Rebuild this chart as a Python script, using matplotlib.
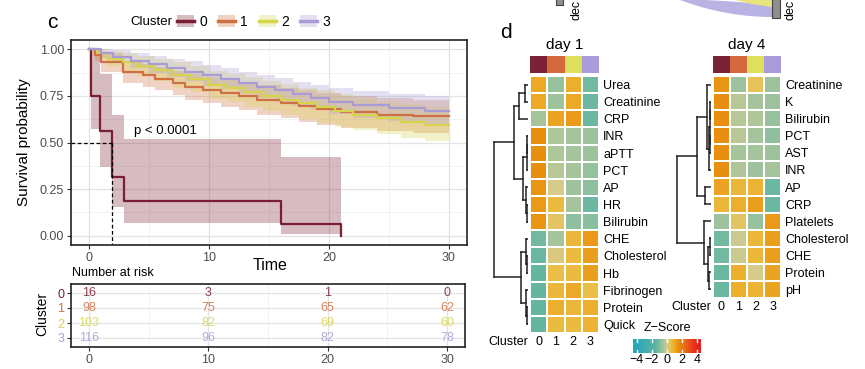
import matplotlib
matplotlib.use("Agg")
import matplotlib.pyplot as plt
import numpy as np
from matplotlib.colors import LinearSegmentedColormap
from matplotlib.lines import Line2D
from matplotlib.patches import Patch, Rectangle, Polygon

plt.rcParams['font.family'] = ['Liberation Sans', 'DejaVu Sans']

# ---------------- survival data ----------------
km_colors = ['#7A1E33', '#CF7042', '#D6D44A', '#A89BD6']
cluster_names = ['0', '1', '2', '3']

t0 = [0, 0.2, 0.9, 1.9, 2.9, 16, 21]
s0 = [1.0, 0.75, 0.5625, 0.3125, 0.1875, 0.0625, 0.0]
lo0 = [1.0, 0.57, 0.37, 0.155, 0.07, 0.01, 0.0]
hi0 = [1.0, 1.0, 0.866, 0.645, 0.52, 0.42, 0.0]

t1 = [0, 0.5, 1, 2.8, 4.5, 5.5, 7, 8, 9.5, 11, 12.5, 14, 16, 17.5, 19, 21, 24, 27, 30]
s1 = [1, .97, .93, .88, .86, .84, .82, .80, .78, .765, .75, .73, .71, .695, .68, .665, .65, .64, .64]
lo1 = [1, .94, .88, .82, .80, .78, .755, .73, .71, .69, .675, .65, .63, .61, .595, .58, .56, .55, .55]
hi1 = [1, 1, .98, .94, .92, .905, .885, .87, .85, .84, .825, .81, .79, .78, .765, .75, .74, .73, .73]

t2 = [0, 0.7, 1.5, 2.8, 4, 5.5, 7, 8.5, 10, 11.5, 13, 14.5, 16, 17.5, 19, 20.5, 22, 24, 26, 28, 30]
s2 = [1, .98, .95, .93, .91, .89, .86, .84, .81, .79, .77, .75, .73, .71, .69, .67, .65, .63, .61, .595, .595]
lo2 = [1, .95, .91, .88, .855, .83, .795, .77, .735, .715, .69, .67, .65, .625, .605, .585, .565, .545, .525, .51, .51]
hi2 = [1, 1, .99, .98, .965, .95, .93, .91, .885, .87, .85, .83, .815, .795, .78, .76, .74, .72, .705, .69, .69]

t3 = [0, 1, 2, 3.5, 5, 6.5, 8, 9.5, 11, 12.5, 14, 15.5, 17, 18.5, 20, 22, 25, 28, 30]
s3 = [1, .98, .96, .94, .92, .90, .88, .86, .84, .82, .80, .78, .76, .74, .72, .70, .685, .67, .67]
lo3 = [1, .955, .925, .90, .875, .85, .83, .805, .785, .76, .74, .715, .695, .675, .655, .63, .615, .60, .60]
hi3 = [1, 1, .995, .98, .965, .95, .935, .915, .90, .88, .86, .845, .825, .81, .79, .775, .76, .75, .75]

risk_times = [0, 10, 20, 30]
risk_counts = [[16, 3, 1, 0], [98, 75, 65, 62], [103, 82, 69, 60], [116, 96, 82, 78]]

# ---------------- heatmap data ----------------
annot_colors = ['#7B2236', '#D4693D', '#DCE05B', '#AA9BDA']

day1_rows = ['Urea', 'Creatinine', 'CRP', 'INR', 'aPTT', 'PCT', 'AP', 'HR', 'Bilirubin',
             'CHE', 'Cholesterol', 'Hb', 'Fibrinogen', 'Protein', 'Quick']
day1_z = [[1.0, -0.7, 0.9, -1.2],
          [1.0, -0.6, 1.0, -1.3],
          [-0.5, 1.1, 1.3, -1.3],
          [1.5, -0.4, -0.5, -0.6],
          [1.5, -0.4, -0.5, -0.6],
          [1.5, -0.3, -0.5, -0.7],
          [1.4, 0.0, -0.6, -0.8],
          [1.3, 0.6, -0.5, -1.3],
          [1.4, 0.3, -0.8, -0.9],
          [-1.2, -0.5, 0.7, 1.3],
          [-1.3, 0.1, 0.6, 1.2],
          [-1.4, 0.5, 0.6, 1.2],
          [-1.4, 0.7, 1.0, 0.5],
          [-1.4, 0.9, 0.7, 0.9],
          [-1.4, 0.6, 0.6, 0.8]]
# merges: (child a, child b, height) ; leaves are 0..n-1
day1_merges = [(0, 1, 2.5), (15, 2, 8.5), (3, 4, 0.8), (17, 5, 1.2), (7, 8, 1.0),
               (6, 19, 1.5), (18, 20, 5.2), (16, 21, 13.5), (10, 11, 1.0), (9, 23, 2.0),
               (13, 14, 0.8), (12, 25, 1.5), (24, 26, 6.5), (22, 27, 33)]

day4_rows = ['Creatinine', 'K', 'Bilirubin', 'PCT', 'AST', 'INR', 'AP', 'CRP',
             'Platelets', 'Cholesterol', 'CHE', 'Protein', 'pH']
day4_z = [[1.4, -0.6, 0.4, -0.6],
          [1.5, -0.3, -0.5, -0.6],
          [1.5, -0.3, -0.4, -0.7],
          [1.5, -0.3, -0.5, -0.8],
          [1.5, -0.5, -0.5, -0.6],
          [1.5, -0.4, -0.6, -0.5],
          [1.1, 0.7, 0.8, -1.3],
          [0.7, 0.9, 1.2, -1.3],
          [-0.6, 0.3, -0.7, 1.3],
          [-1.2, -0.1, 0.7, 1.2],
          [-1.2, -0.1, 0.7, 1.2],
          [-1.3, 0.9, 0.0, 1.1],
          [-1.3, 0.9, 0.8, 1.1]]
day4_merges = [(1, 2, 1.0), (3, 4, 1.0), (13, 14, 1.5), (15, 5, 2.0), (0, 16, 4.5),
               (6, 7, 6.0), (17, 18, 14), (9, 10, 0.8), (11, 12, 2.0), (20, 21, 3.0),
               (8, 22, 6.7), (19, 23, 35)]

zscore_ticks = [-4, -2, 0, 2, 4]

# ---------------- layout helpers ----------------
W, H = 865, 369
fig = plt.figure(figsize=(W / 100, H / 100), dpi=100)


def box(l, t, r, b):
    return [l / W, 1 - b / H, (r - l) / W, (b - t) / H]


def ftext(x, y, s, **kw):
    fig.text(x / W, 1 - y / H, s, **kw)


zcmap = LinearSegmentedColormap.from_list('zs', [
    (0.0, '#2AA6BA'), (2.5 / 8, '#5DB4A2'), (3.5 / 8, '#A5C49C'), (4 / 8, '#D5CB8C'),
    (4.5 / 8, '#EBC048'), (5 / 8, '#ECAA26'), (5.5 / 8, '#E8900F'), (6.5 / 8, '#EA6418'),
    (1.0, '#E8201E')])

# ---------------- bits of the neighbouring panel ----------------
bg = fig.add_axes([0, 0, 1, 1], zorder=-5)
bg.set_xlim(0, W)
bg.set_ylim(H, 0)
bg.axis('off')
s = np.linspace(0, 1, 40)
lower = np.column_stack([680 + 92 * s, 17 - 17 * (1 - s) ** 2])
upper = np.column_stack([772 - 67 * s, 7 - 7 * s ** 0.5])
bg.add_patch(Polygon(np.vstack([lower, upper]), closed=True, facecolor='#B8B3E3', edgecolor='none'))
bg.add_patch(Polygon([[735, 0], [772, 0], [772, 7], [752, 4]], closed=True, facecolor='#E8E47E', edgecolor='none'))
bg.add_patch(Rectangle((772, -2), 8, 20, facecolor='#8E8E8E', edgecolor='#444444', lw=0.8))
bg.add_patch(Rectangle((556, -2), 7, 7, facecolor='#8E8E8E', edgecolor='#444444', lw=0.8))
ftext(577, 20, 'dec', rotation=90, ha='center', va='bottom', fontsize=9)
ftext(790, 20, 'dec', rotation=90, ha='center', va='bottom', fontsize=9)

# ---------------- Kaplan-Meier panel ----------------
ax = fig.add_axes(box(71, 40, 467, 245))
curves = [(t0, s0, lo0, hi0), (t1, s1, lo1, hi1), (t2, s2, lo2, hi2), (t3, s3, lo3, hi3)]
for (t, sv, lo, hi), c in zip(curves, km_colors):
    ax.fill_between(t, lo, hi, step='post', color=c, alpha=0.3, lw=0)
for (t, sv, lo, hi), c in zip(curves, km_colors):
    ax.step(t, sv, where='post', color=c, lw=1.6)

med = t0[next(i for i, v in enumerate(s0) if v <= 0.5)]
ax.plot([-1.5, med], [0.5, 0.5], ls=(0, (3, 2)), color='black', lw=0.9)
ax.plot([med, med], [0.5, -0.05], ls=(0, (3, 2)), color='black', lw=0.9)
ax.text(3.75, 0.56, 'p < 0.0001', fontsize=9.5, va='center', ha='left')

ax.set_xlim(-1.5, 31.5)
ax.set_ylim(-0.05, 1.05)
ax.set_xticks([0, 10, 20, 30])
ax.set_xticks([5, 15, 25], minor=True)
ax.set_yticks([0, 0.25, 0.5, 0.75, 1.0])
ax.set_yticks([0.125, 0.375, 0.625, 0.875], minor=True)
ax.set_yticklabels(['0.00', '0.25', '0.50', '0.75', '1.00'])
ax.grid(True, which='major', color='#E3E3E3', lw=0.9)
ax.grid(True, which='minor', color='#F0F0F0', lw=0.6)
ax.set_axisbelow(True)
ax.tick_params(which='major', length=3, width=0.8, color='#333333', labelcolor='#4D4D4D', labelsize=9, pad=2)
ax.tick_params(which='minor', length=0)
for sp in ax.spines.values():
    sp.set_linewidth(1.2)
    sp.set_color('#222222')
ax.set_ylabel('Survival probability', fontsize=11, labelpad=6)
ftext(270, 266, 'Time', ha='center', va='center', fontsize=11.5)

ftext(52, 22, 'c', ha='center', va='center', fontsize=15)
ftext(130, 22, 'Cluster', ha='left', va='center', fontsize=9.5)
handles = [(Patch(facecolor=c, alpha=0.3, edgecolor='none'), Line2D([], [], color=c, lw=2.5))
           for c in km_colors]
fig.legend(handles, cluster_names, ncol=4, loc='center left', bbox_to_anchor=(177 / W, 1 - 22 / H),
           frameon=False, handlelength=1.2, handleheight=1.0, columnspacing=0.8,
           handletextpad=0.4, fontsize=10, borderpad=0, borderaxespad=0)

# ---------------- risk table ----------------
rt = fig.add_axes(box(71, 284, 465, 347))
for i, counts in enumerate(risk_counts):
    for tt, n in zip(risk_times, counts):
        rt.text(tt, i, str(n), ha='center', va='center', color=km_colors[i], fontsize=9, alpha=0.85)
rt.set_xlim(-1.5, 31.5)
rt.set_ylim(3.6, -0.6)
rt.set_xticks(risk_times)
rt.set_xticks([5, 15, 25], minor=True)
rt.set_yticks(range(4))
rt.set_yticklabels(cluster_names)
for lbl, c in zip(rt.get_yticklabels(), km_colors):
    lbl.set_color(c)
rt.grid(True, which='major', color='#E3E3E3', lw=0.9)
rt.grid(True, which='minor', axis='x', color='#F0F0F0', lw=0.6)
rt.set_axisbelow(True)
rt.tick_params(which='major', length=3, width=0.8, color='#333333', labelsize=9, pad=2)
rt.tick_params(axis='x', labelcolor='#4D4D4D')
rt.tick_params(which='minor', length=0)
for sp in rt.spines.values():
    sp.set_linewidth(1.2)
    sp.set_color('#222222')
ftext(72, 273, 'Number at risk', ha='left', va='center', fontsize=9)
ftext(42, 314, 'Cluster', rotation=90, ha='center', va='center', fontsize=10)


# ---------------- heatmaps ----------------
def draw_dendro(dax, merges, n):
    ypos = {i: i + 0.5 for i in range(n)}
    hgt = {i: 0.0 for i in range(n)}
    for k, (a, b, h) in enumerate(merges):
        node = n + k
        for ch in (a, b):
            dax.plot([hgt[ch], h], [ypos[ch], ypos[ch]], color='#222222', lw=1.1)
        dax.plot([h, h], [ypos[a], ypos[b]], color='#222222', lw=1.1)
        ypos[node] = (ypos[a] + ypos[b]) / 2
        hgt[node] = h
    top = merges[-1][2]
    dax.set_xlim(top * 1.02, 0)
    dax.set_ylim(n, 0)
    dax.axis('off')


def draw_heat(l, t, r, b, dleft, rows, z, merges, title):
    n = len(rows)
    hax = fig.add_axes(box(l, t, r, b))
    hax.pcolormesh(np.arange(5), np.arange(n + 1), np.array(z), cmap=zcmap, vmin=-4, vmax=4,
                   edgecolors='white', linewidth=1.3)
    hax.set_xlim(0, 4)
    hax.set_ylim(n, 0)
    hax.set_xticks([])
    hax.set_yticks(np.arange(n) + 0.5)
    hax.set_yticklabels(rows, fontsize=9)
    hax.yaxis.tick_right()
    hax.tick_params(axis='y', length=0, pad=3)
    for sp in hax.spines.values():
        sp.set_visible(False)
    for j, name in enumerate(cluster_names):
        hax.text(j + 0.5, n + 0.5, name, ha='center', va='center', fontsize=9)
    hax.text(-0.1, n + 0.5, 'Cluster', ha='right', va='center', fontsize=9)

    aax = fig.add_axes(box(l, t - 20, r, t - 3.5))
    for j, c in enumerate(annot_colors):
        aax.add_patch(Rectangle((j, 0), 1, 1, facecolor=c, edgecolor='none'))
    aax.set_xlim(0, 4)
    aax.set_ylim(0, 1)
    aax.axis('off')
    ftext((l + r) / 2, 45, title, ha='center', va='center', fontsize=11)

    dax = fig.add_axes(box(dleft, t, l - 2, b))
    draw_dendro(dax, merges, n)


draw_heat(530, 76, 599, 333, 493, day1_rows, day1_z, day1_merges, 'day 1')
draw_heat(713, 76, 781, 298, 676, day4_rows, day4_z, day4_merges, 'day 4')
ftext(506, 32, 'd', ha='center', va='center', fontsize=15)

# ---------------- Z-score legend ----------------
cax = fig.add_axes(box(633, 339, 701, 353))
grad = np.linspace(-4.5, 4.5, 200)
cax.pcolormesh(grad, [0, 1], grad[:-1][None, :], cmap=zcmap, vmin=-4, vmax=4)
for v in zscore_ticks:
    cax.plot([v, v], [0, 0.2], color='white', lw=1)
    cax.plot([v, v], [0.8, 1], color='white', lw=1)
cax.set_xlim(-4.5, 4.5)
cax.set_ylim(0, 1)
cax.set_xticks(zscore_ticks)
cax.set_xticklabels([str(v).replace('-', '\u2212') for v in zscore_ticks], fontsize=9)
cax.tick_params(axis='x', length=0, pad=1)
cax.set_yticks([])
for sp in cax.spines.values():
    sp.set_visible(False)
ftext(667, 328, 'Z\u2212Score', ha='center', va='center', fontsize=9)

fig.savefig('out.png', dpi=100)
